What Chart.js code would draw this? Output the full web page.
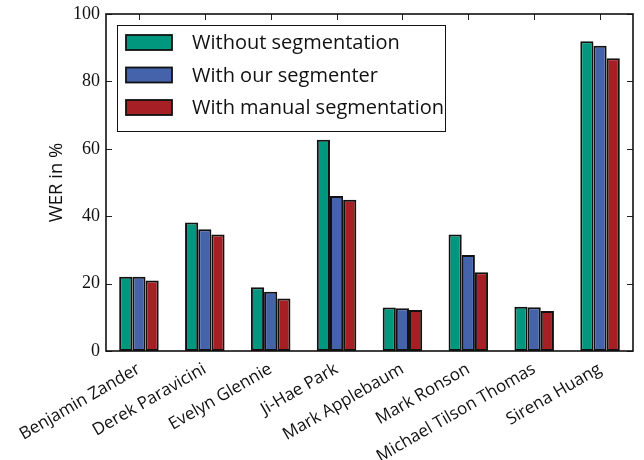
<!DOCTYPE html>
<html>
<head>
<meta charset="utf-8">
<script src="https://cdn.jsdelivr.net/npm/chart.js@4/dist/chart.umd.min.js"></script>
<style>
  html, body { margin: 0; padding: 0; background: #fff; }
  canvas { display: block; }
</style>
</head>
<body>
<canvas id="c" width="644" height="460"></canvas>
<script>
// Word error rate per speaker, three segmentation settings
const speakers = [
  'Benjamin Zander', 'Derek Paravicini', 'Evelyn Glennie', 'Ji-Hae Park',
  'Mark Applebaum', 'Mark Ronson', 'Michael Tilson Thomas', 'Sirena Huang'
];
const withoutSegmentation = [22.0, 38.1, 18.9, 62.7, 12.9, 34.6, 13.1, 91.9];
const withOurSegmenter    = [22.0, 36.1, 17.6, 46.0, 12.7, 28.5, 13.0, 90.6];
const withManualSegment   = [20.9, 34.6, 15.6, 44.9, 12.2, 23.4, 11.9, 86.9];
const seriesNames = ['Without segmentation', 'With our segmenter', 'With manual segmentation'];
const seriesColors = ['#00977f', '#4563ab', '#a51f24'];
const yTickValues = [0, 20, 40, 60, 80, 100];

const SANS = '"Open Sans", Lato, sans-serif';
const SERIF = '"Liberation Serif", "DejaVu Serif", serif';

// Inward tick marks on all four sides and the black frame
const framePlugin = {
  id: 'frame',
  beforeDatasetsDraw(chart) {
    const { ctx, chartArea: a, scales } = chart;
    const len = 6;
    ctx.save();
    ctx.strokeStyle = '#222';
    ctx.lineWidth = 1;
    ctx.beginPath();
    yTickValues.forEach(v => {
      const y = Math.round(scales.y.getPixelForValue(v)) + 0.5;
      ctx.moveTo(a.left, y); ctx.lineTo(a.left + len, y);
      ctx.moveTo(a.right, y); ctx.lineTo(a.right - len, y);
    });
    speakers.forEach((s, i) => {
      const x = Math.round(scales.x.getPixelForValue(i)) + 0.5;
      ctx.moveTo(x, a.top); ctx.lineTo(x, a.top + len);
      ctx.moveTo(x, a.bottom); ctx.lineTo(x, a.bottom - len);
    });
    ctx.stroke();
    ctx.restore();
  },
  afterDatasetsDraw(chart) {
    const { ctx, chartArea: a } = chart;
    ctx.save();
    ctx.strokeStyle = '#111';
    ctx.lineWidth = 1.6;
    ctx.strokeRect(a.left, a.top, a.right - a.left, a.bottom - a.top);
    ctx.restore();
  }
};

// Boxed legend in the upper-left corner of the plot
const boxLegendPlugin = {
  id: 'boxLegend',
  afterDraw(chart) {
    const { ctx, chartArea: a } = chart;
    const bx = a.left + 11, by = a.top + 11, bw = 328, bh = 106;
    ctx.save();
    ctx.fillStyle = '#fff';
    ctx.fillRect(bx, by, bw, bh);
    ctx.strokeStyle = '#111';
    ctx.lineWidth = 1;
    ctx.strokeRect(bx + 0.5, by + 0.5, bw, bh);
    chart.data.datasets.forEach((ds, i) => {
      const cy = by + 17.5 + i * 32.5;
      ctx.fillStyle = ds.backgroundColor;
      ctx.fillRect(bx + 9, cy - 7.5, 46, 15);
      ctx.lineWidth = 1.8;
      ctx.strokeStyle = '#111';
      ctx.strokeRect(bx + 9, cy - 7.5, 46, 15);
      ctx.fillStyle = '#111';
      ctx.font = '20px ' + SANS;
      ctx.textBaseline = 'middle';
      ctx.textAlign = 'left';
      ctx.fillText(ds.label, bx + 75, cy + 1);
    });
    ctx.restore();
  }
};

const mkDataset = (i, data) => ({
  label: seriesNames[i],
  data: data,
  backgroundColor: seriesColors[i],
  borderColor: '#111',
  borderWidth: 2,
  borderSkipped: false,
  categoryPercentage: 0.6,
  barPercentage: 1.0
});

new Chart(document.getElementById('c'), {
  type: 'bar',
  data: {
    labels: speakers,
    datasets: [
      mkDataset(0, withoutSegmentation),
      mkDataset(1, withOurSegmenter),
      mkDataset(2, withManualSegment)
    ]
  },
  options: {
    responsive: false,
    animation: false,
    devicePixelRatio: 1,
    layout: { padding: { left: 0, top: 14, right: 11, bottom: 0 } },
    plugins: { legend: { display: false }, tooltip: { enabled: false } },
    scales: {
      x: {
        type: 'category',
        offset: true,
        grid: { display: false, drawTicks: false },
        border: { display: false },
        afterFit(scale) { scale.height = 109; },
        ticks: {
          autoSkip: false,
          minRotation: 30,
          maxRotation: 30,
          padding: 8,
          color: '#111',
          font: { family: SANS, size: 17 }
        }
      },
      y: {
        min: 0,
        max: 100,
        afterBuildTicks(scale) { scale.ticks = yTickValues.map(v => ({ value: v })); },
        afterFit(scale) {
          scale.width = 106;
          scale.paddingTop = 0;
          scale.paddingBottom = 0;
        },
        grid: { display: false, drawTicks: false },
        border: { display: false },
        ticks: {
          padding: 6,
          color: '#111',
          font: { family: SERIF, size: 18 }
        },
        title: {
          display: true,
          text: 'WER in %',
          color: '#111',
          font: { family: SANS, size: 18.5 },
          padding: { top: 46, bottom: 0 }
        }
      }
    }
  },
  plugins: [framePlugin, boxLegendPlugin]
});
</script>
</body>
</html>
